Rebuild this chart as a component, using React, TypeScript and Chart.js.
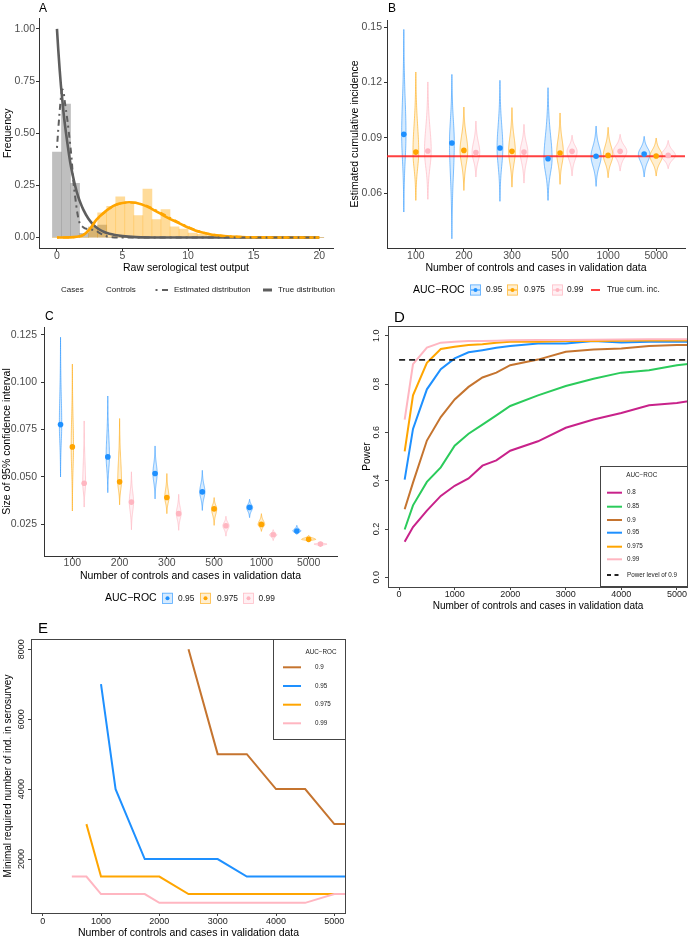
import React, { useEffect, useRef } from 'react';
import { Chart, registerables } from 'chart.js';

Chart.register(...registerables);

const FONT = '"Liberation Sans", Arial, Helvetica, sans-serif';

/* ---------------- Panel A data ---------------- */
const binCenters = [0, 0.69, 1.379, 2.069, 2.759, 3.448, 4.138, 4.828, 5.517, 6.207, 6.897, 7.586, 8.276, 8.966, 9.655, 10.345, 11.034, 11.724, 12.414, 13.103, 13.793, 14.483, 15.172, 15.862, 16.552, 17.241, 17.931, 18.621, 19.31, 20];
const controlsFreq = [0.41, 0.64, 0.26, 0.02, 0.05, 0.06, 0, 0, 0, 0, 0, 0, 0, 0, 0, 0, 0, 0, 0, 0, 0, 0, 0, 0, 0, 0, 0, 0, 0, 0];
const casesFreq = [0, 0, 0, 0, 0.05, 0.118, 0.15, 0.195, 0.16, 0.105, 0.233, 0.086, 0.134, 0.051, 0.041, 0.022, 0.015, 0.01, 0.006, 0.004, 0.003, 0.002, 0.002, 0.001, 0.001, 0.001, 0.001, 0, 0.001, 0];
const controlsTrueX = [0, 0.1, 0.2, 0.3, 0.4, 0.5, 0.6, 0.8, 1, 1.2, 1.4, 1.6, 1.8, 2, 2.4, 2.8, 3.2, 3.6, 4, 5, 6, 8, 20];
const controlsTrueY = [1, 0.9, 0.81, 0.73, 0.665, 0.6, 0.545, 0.45, 0.365, 0.3, 0.245, 0.2, 0.165, 0.135, 0.09, 0.06, 0.04, 0.027, 0.018, 0.007, 0.002, 0, 0];
const controlsEstX = [0, 0.1, 0.2, 0.3, 0.4, 0.5, 0.6, 0.8, 1, 1.1, 1.25, 1.4, 1.55, 1.7, 2, 2.4, 2.9, 3.3, 3.7, 4.2, 5, 20];
const controlsEstY = [0.43, 0.52, 0.6, 0.67, 0.71, 0.7, 0.65, 0.56, 0.45, 0.39, 0.27, 0.19, 0.12, 0.075, 0.05, 0.04, 0.035, 0.02, 0.008, 0.002, 0, 0];
const casesCurveX = [0, 1, 1.5, 2, 2.5, 3, 3.5, 4, 4.5, 5, 5.5, 6, 6.5, 7, 7.5, 8, 8.5, 9, 9.5, 10, 10.5, 11, 11.5, 12, 13, 14, 15, 16, 18, 20];
const casesTrueY = [0, 0.001, 0.004, 0.012, 0.04, 0.085, 0.115, 0.14, 0.158, 0.166, 0.169, 0.167, 0.158, 0.145, 0.128, 0.11, 0.093, 0.078, 0.063, 0.048, 0.035, 0.025, 0.018, 0.012, 0.006, 0.003, 0.0015, 0.001, 0, 0];
const casesEstY = [0, 0.001, 0.004, 0.013, 0.042, 0.083, 0.113, 0.138, 0.156, 0.165, 0.168, 0.167, 0.16, 0.148, 0.133, 0.116, 0.099, 0.082, 0.066, 0.051, 0.038, 0.027, 0.019, 0.013, 0.007, 0.004, 0.002, 0.001, 0.0005, 0];
const aXTicks = [0, 5, 10, 15, 20];
const aYTicks = [0, 0.25, 0.5, 0.75, 1];

/* ---------------- Panels B & C data ---------------- */
const sizeLabels = ['100', '200', '300', '500', '1000', '5000'];
const trueIncidence = 0.08;

const bLo095 = [0.0497, 0.0352, 0.0555, 0.056, 0.0636, 0.0687];
const bHi095 = [0.1487, 0.1243, 0.1211, 0.1171, 0.0963, 0.0907];
const bMid095 = [0.0918, 0.0871, 0.0844, 0.0786, 0.0799, 0.0811];
const bHw095 = [0.045, 0.05, 0.06, 0.085, 0.105, 0.12];
const bLo0975 = [0.056, 0.0614, 0.0632, 0.0647, 0.0683, 0.0692];
const bHi0975 = [0.1256, 0.1066, 0.1063, 0.1034, 0.0956, 0.0898];
const bMid0975 = [0.0822, 0.0831, 0.0826, 0.0817, 0.0804, 0.0801];
const bHw0975 = [0.06, 0.08, 0.07, 0.07, 0.1, 0.13];
const bLo099 = [0.0566, 0.0687, 0.0654, 0.0693, 0.0719, 0.0732];
const bHi099 = [0.1202, 0.099, 0.0972, 0.0913, 0.0918, 0.0885];
const bMid099 = [0.0828, 0.082, 0.0822, 0.0826, 0.0826, 0.0804];
const bHw099 = [0.07, 0.08, 0.08, 0.105, 0.14, 0.15];
const bYTicks = [0.06, 0.09, 0.12, 0.15];

const cLo095 = [0.0499, 0.0416, 0.0383, 0.0322, 0.0284, 0.0195];
const cHi095 = [0.1238, 0.0927, 0.0663, 0.0534, 0.0381, 0.0243];
const cMid095 = [0.0776, 0.0605, 0.0517, 0.042, 0.0338, 0.0213];
const cHw095 = [0.025, 0.035, 0.045, 0.055, 0.065, 0.085];
const cLo0975 = [0.0319, 0.0352, 0.0305, 0.0243, 0.0211, 0.0158];
const cHi0975 = [0.1096, 0.0808, 0.0517, 0.039, 0.0305, 0.019];
const cMid0975 = [0.0658, 0.0473, 0.039, 0.033, 0.0248, 0.0169];
const cHw0975 = [0.025, 0.04, 0.045, 0.055, 0.07, 0.15];
const cLo099 = [0.034, 0.022, 0.0217, 0.0186, 0.0163, 0.0133];
const cHi099 = [0.0795, 0.0526, 0.0407, 0.0291, 0.022, 0.0153];
const cMid099 = [0.0466, 0.0366, 0.0305, 0.0241, 0.0193, 0.0144];
const cHw099 = [0.03, 0.045, 0.05, 0.065, 0.075, 0.135];
const cYTicks = [0.025, 0.05, 0.075, 0.1, 0.125];

/* ---------------- Panel D data ---------------- */
const powerN = [100, 250, 500, 750, 1000, 1250, 1500, 1750, 2000, 2500, 3000, 3500, 4000, 4500, 5000, 5500];
const power080 = [0.147, 0.208, 0.276, 0.337, 0.379, 0.409, 0.462, 0.484, 0.524, 0.563, 0.619, 0.653, 0.68, 0.712, 0.721, 0.74];
const power085 = [0.198, 0.298, 0.395, 0.455, 0.545, 0.594, 0.632, 0.67, 0.709, 0.753, 0.792, 0.822, 0.847, 0.857, 0.878, 0.89];
const power090 = [0.282, 0.392, 0.566, 0.663, 0.736, 0.788, 0.827, 0.847, 0.878, 0.901, 0.933, 0.943, 0.947, 0.957, 0.961, 0.962];
const power095 = [0.404, 0.614, 0.778, 0.861, 0.906, 0.931, 0.94, 0.95, 0.957, 0.968, 0.968, 0.978, 0.972, 0.975, 0.975, 0.975];
const power0975 = [0.521, 0.753, 0.888, 0.945, 0.954, 0.961, 0.964, 0.971, 0.975, 0.975, 0.978, 0.978, 0.979, 0.98, 0.98, 0.98];
const power099 = [0.653, 0.882, 0.951, 0.971, 0.975, 0.978, 0.978, 0.979, 0.981, 0.982, 0.982, 0.983, 0.984, 0.985, 0.985, 0.985];
const powerLevel = 0.9;
const dXTicks = [0, 1000, 2000, 3000, 4000, 5000];
const dYTicks = [0, 0.2, 0.4, 0.6, 0.8, 1];

/* ---------------- Panel E data ---------------- */
const serN = [500, 750, 1000, 1250, 1500, 1750, 2000, 2500, 3000, 3500, 4000, 4500, 5000, 5500];
const req090 = [null, null, null, null, null, null, null, 8000, 5000, 5000, 4000, 4000, 3000, 3000];
const req095 = [null, null, 7000, 4000, 3000, 2000, 2000, 2000, 2000, 1500, 1500, 1500, 1500, 1500];
const req0975 = [null, 3000, 1500, 1500, 1500, 1500, 1500, 1000, 1000, 1000, 1000, 1000, 1000, 1000];
const req099 = [1500, 1500, 1000, 1000, 1000, 1000, 750, 750, 750, 750, 750, 750, 1000, 1000];
const eYTicks = [2000, 4000, 6000, 8000];

/* ---------------- colours ---------------- */
const BLUE = '#1E90FF';
const ORANGE = '#FFA500';
const PINK = '#FFB6C1';
const MAGENTA = '#C8228A';
const GREEN = '#2BCB5B';
const BROWN = '#C5742F';
const GREY = '#5E5E5E';

/* ---------------- layout helpers ---------------- */
type Frame = {
  box: { left: number; top: number; width: number; height: number };
  plot: { l: number; t: number; r: number; b: number };
  bottomExtra: number;
};

const FA: Frame = { box: { left: 0, top: 0, width: 345, height: 300 }, plot: { l: 39, t: 18.5, r: 333, b: 248 }, bottomExtra: 20 };
const FB: Frame = { box: { left: 345, top: 0, width: 346, height: 300 }, plot: { l: 387, t: 20, r: 685, b: 248 }, bottomExtra: 20 };
const FC: Frame = { box: { left: 0, top: 300, width: 345, height: 320 }, plot: { l: 44, t: 327, r: 337, b: 556 }, bottomExtra: 34 };
const FD: Frame = { box: { left: 345, top: 300, width: 346, height: 320 }, plot: { l: 388, t: 326, r: 688, b: 587 }, bottomExtra: 4 };
const FE: Frame = { box: { left: 0, top: 610, width: 350, height: 330 }, plot: { l: 31, t: 639, r: 346, b: 913 }, bottomExtra: 0 };

const yAxisWidth = (f: Frame) => f.plot.l - f.box.left;
const xAxisHeight = (f: Frame) => f.box.top + f.box.height - f.bottomExtra - f.plot.b;

function baseOptions(f: Frame): any {
  return {
    responsive: false,
    maintainAspectRatio: false,
    animation: false,
    devicePixelRatio: 1,
    events: [],
    layout: {
      padding: {
        left: 0,
        top: f.plot.t - f.box.top,
        right: f.box.left + f.box.width - f.plot.r,
        bottom: f.bottomExtra,
      },
    },
    plugins: { legend: { display: false }, tooltip: { enabled: false } },
  };
}

type AxisOpts = {
  min: number;
  max: number;
  ticks: number[];
  fmt: (v: number) => string;
  title: string;
  titleSize: number;
  titlePos: number;
  tickPad: number;
  tickSize: number;
  showLabels: boolean;
  ggplot: boolean;
};

function makeAxis(axis: 'x' | 'y', f: Frame, o: AxisOpts): any {
  const isX = axis === 'x';
  const lh = o.titleSize * 1.2;
  const pad = isX
    ? f.box.top + f.box.height - f.bottomExtra - lh / 2 - o.titlePos
    : o.titlePos - f.box.left - lh / 2;
  return {
    type: 'linear',
    position: isX ? 'bottom' : 'left',
    min: o.min,
    max: o.max,
    offset: false,
    afterBuildTicks: (s: any) => {
      s.ticks = o.ticks.map((v) => ({ value: v }));
    },
    afterFit: (s: any) => {
      if (isX) s.height = xAxisHeight(f);
      else s.width = yAxisWidth(f);
    },
    border: { display: o.ggplot, color: '#333333', width: 1 },
    grid: {
      display: true,
      drawOnChartArea: false,
      drawTicks: true,
      tickLength: 3,
      color: o.ggplot ? '#333333' : '#444444',
      lineWidth: 1,
      offset: false,
    },
    ticks: {
      display: o.showLabels,
      autoSkip: false,
      maxRotation: 0,
      minRotation: 0,
      padding: o.tickPad,
      color: o.ggplot ? '#4D4D4D' : '#222222',
      font: { family: FONT, size: o.tickSize, lineHeight: 1 },
      callback: (v: any) => o.fmt(Number(v)),
    },
    title: {
      display: true,
      text: o.title,
      color: '#000000',
      font: { family: FONT, size: o.titleSize, lineHeight: 1.2 },
      padding: isX ? { top: 0, bottom: pad } : { top: pad, bottom: 0 },
    },
  };
}

function txt(
  ctx: CanvasRenderingContext2D,
  s: string,
  x: number,
  y: number,
  size: number,
  color = '#000000',
  align: CanvasTextAlign = 'left',
  baseline: CanvasTextBaseline = 'middle',
  rotate = 0
) {
  ctx.save();
  ctx.font = `${size}px ${FONT}`;
  ctx.fillStyle = color;
  ctx.textAlign = align;
  ctx.textBaseline = baseline;
  ctx.translate(x, y);
  if (rotate) ctx.rotate(rotate);
  ctx.fillText(s, 0, 0);
  ctx.restore();
}

function seg(ctx: CanvasRenderingContext2D, x1: number, y1: number, x2: number, y2: number, color: string, w: number, dash: number[] = []) {
  ctx.save();
  ctx.strokeStyle = color;
  ctx.lineWidth = w;
  ctx.setLineDash(dash);
  ctx.beginPath();
  ctx.moveTo(x1, y1);
  ctx.lineTo(x2, y2);
  ctx.stroke();
  ctx.restore();
}

function decor(id: string, after: (ctx: CanvasRenderingContext2D, chart: any) => void, before?: (ctx: CanvasRenderingContext2D, chart: any) => void): any {
  return {
    id,
    beforeDatasetsDraw(chart: any) {
      if (!before) return;
      const ctx = chart.ctx as CanvasRenderingContext2D;
      ctx.save();
      before(ctx, chart);
      ctx.restore();
    },
    afterDraw(chart: any) {
      const ctx = chart.ctx as CanvasRenderingContext2D;
      ctx.save();
      after(ctx, chart);
      ctx.restore();
    },
  };
}

/* ---------------- violins ---------------- */
type VGroup = { off: number; lo: number[]; hi: number[]; mid: number[]; hw: number[]; stroke: string; fill: string };

function drawViolins(ctx: CanvasRenderingContext2D, chart: any, groups: VGroup[]) {
  const xs = chart.scales.x;
  const ys = chart.scales.y;
  const a = chart.chartArea;
  ctx.save();
  ctx.beginPath();
  ctx.rect(a.left, a.top, a.right - a.left, a.bottom - a.top);
  ctx.clip();
  for (const g of groups) {
    for (let i = 0; i < g.lo.length; i++) {
      const cx = i + 1 + g.off;
      const lo = g.lo[i];
      const hi = g.hi[i];
      const mid = g.mid[i];
      const hw = g.hw[i];
      const N = 80;
      const prof: [number, number][] = [];
      for (let k = 0; k <= N; k++) {
        const v = lo + ((hi - lo) * k) / N;
        const d = v < mid ? (mid - v) / Math.max(mid - lo, 1e-9) : (v - mid) / Math.max(hi - mid, 1e-9);
        const core = Math.exp(-0.5 * (d * 3.2) * (d * 3.2));
        const w = hw * (0.82 * core + 0.18 * (1 - d * d));
        prof.push([v, w]);
      }
      ctx.beginPath();
      prof.forEach(([v, w], k) => {
        const px = xs.getPixelForValue(cx + w);
        const py = ys.getPixelForValue(v);
        if (k === 0) ctx.moveTo(px, py);
        else ctx.lineTo(px, py);
      });
      for (let k = N; k >= 0; k--) {
        const [v, w] = prof[k];
        ctx.lineTo(xs.getPixelForValue(cx - w), ys.getPixelForValue(v));
      }
      ctx.closePath();
      ctx.fillStyle = g.fill;
      ctx.fill();
      ctx.strokeStyle = g.stroke;
      ctx.lineWidth = 0.8;
      ctx.stroke();
    }
  }
  ctx.restore();
}

function violinKey(ctx: CanvasRenderingContext2D, x: number, y: number, stroke: string, fill: string, pt: string, withLine: boolean) {
  ctx.save();
  ctx.fillStyle = fill;
  ctx.fillRect(x, y - 5.5, 11, 11);
  ctx.strokeStyle = stroke;
  ctx.lineWidth = 0.8;
  ctx.strokeRect(x + 0.4, y - 5.1, 10.2, 10.2);
  if (withLine) seg(ctx, x + 1, y, x + 10, y, pt, 1);
  ctx.fillStyle = pt;
  ctx.beginPath();
  ctx.arc(x + 5.5, y, 2, 0, Math.PI * 2);
  ctx.fill();
  ctx.restore();
}

/* ---------------- Panel A ---------------- */
function buildA(canvas: HTMLCanvasElement) {
  const f = FA;
  const X = (x: number) => x - f.box.left;
  const Y = (y: number) => y - f.box.top;
  const xy = (xs: number[], ys: number[]) => xs.map((x, i) => ({ x, y: ys[i] }));
  return new Chart(canvas, {
    type: 'bar',
    data: {
      datasets: [
        { type: 'line', data: xy(casesCurveX, casesEstY), borderColor: ORANGE, borderWidth: 2, borderDash: [2, 4, 6, 4], pointRadius: 0, cubicInterpolationMode: 'monotone', order: 0 } as any,
        { type: 'line', data: xy(controlsEstX, controlsEstY), borderColor: GREY, borderWidth: 2, borderDash: [2, 4, 6, 4], pointRadius: 0, cubicInterpolationMode: 'monotone', order: 1 } as any,
        { type: 'line', data: xy(casesCurveX, casesTrueY), borderColor: ORANGE, borderWidth: 2.6, pointRadius: 0, cubicInterpolationMode: 'monotone', order: 2 } as any,
        { type: 'line', data: xy(controlsTrueX, controlsTrueY), borderColor: GREY, borderWidth: 2.6, pointRadius: 0, cubicInterpolationMode: 'monotone', order: 3 } as any,
        { type: 'bar', data: xy(binCenters, casesFreq), backgroundColor: 'rgba(255,165,0,0.4)', borderWidth: 0, grouped: false, barPercentage: 1, categoryPercentage: 1, order: 4 } as any,
        { type: 'bar', data: xy(binCenters, controlsFreq), backgroundColor: 'rgba(128,128,128,0.5)', borderWidth: 0, grouped: false, barPercentage: 1, categoryPercentage: 1, order: 5 } as any,
      ],
    },
    options: {
      ...baseOptions(f),
      scales: {
        x: makeAxis('x', f, { min: -1.37, max: 21.05, ticks: aXTicks, fmt: (v) => String(v), title: 'Raw serological test output', titleSize: 10.5, titlePos: 268, tickPad: 0, tickSize: 10.5, showLabels: true, ggplot: true }),
        y: makeAxis('y', f, { min: -0.05, max: 1.05, ticks: aYTicks, fmt: (v) => v.toFixed(2), title: 'Frequency', titleSize: 10.5, titlePos: 8.3, tickPad: 1, tickSize: 10.5, showLabels: true, ggplot: true }),
      },
    },
    plugins: [
      decor('decorA', (ctx) => {
        txt(ctx, 'A', X(39), Y(12), 12, '#000', 'left', 'alphabetic');
        const ly = Y(290);
        txt(ctx, 'Cases', X(61), ly, 8, '#1A1A1A');
        txt(ctx, 'Controls', X(106), ly, 8, '#1A1A1A');
        seg(ctx, X(155.5), ly, X(157.5), ly, GREY, 2);
        seg(ctx, X(162), ly, X(168), ly, GREY, 2);
        txt(ctx, 'Estimated distribution', X(174), ly, 8, '#1A1A1A');
        seg(ctx, X(263), ly, X(272), ly, GREY, 3);
        txt(ctx, 'True distribution', X(278), ly, 8, '#1A1A1A');
      }),
    ],
  });
}

/* ---------------- Panels B & C ---------------- */
function violinChart(canvas: HTMLCanvasElement, f: Frame, letter: string, groups: VGroup[], opts: { yMin: number; yMax: number; yTicks: number[]; yDigits: number; yTitle: string; yTitlePos: number; yTickPad: number; xTickPad: number; xTitlePos: number; legendY: number; legendX: number[]; letterPos: [number, number]; withRef: boolean }) {
  const X = (x: number) => x - f.box.left;
  const Y = (y: number) => y - f.box.top;
  const ptColors = [BLUE, ORANGE, PINK];
  const datasets: any[] = groups.map((g, gi) => ({
    type: 'scatter',
    data: g.mid.map((m, i) => ({ x: i + 1 + g.off, y: m })),
    backgroundColor: ptColors[gi],
    borderWidth: 0,
    pointRadius: 2.8,
    order: gi,
  }));
  if (opts.withRef) {
    datasets.push({
      type: 'line',
      data: [{ x: 0.4, y: trueIncidence }, { x: 6.6, y: trueIncidence }],
      borderColor: 'rgba(255,30,30,0.85)',
      borderWidth: 2,
      pointRadius: 0,
      order: 10,
    });
  }
  return new Chart(canvas, {
    type: 'scatter',
    data: { datasets },
    options: {
      ...baseOptions(f),
      scales: {
        x: makeAxis('x', f, { min: 0.4, max: 6.6, ticks: [1, 2, 3, 4, 5, 6], fmt: (v) => sizeLabels[Math.round(v) - 1] ?? '', title: 'Number of controls and cases in validation data', titleSize: 10.5, titlePos: opts.xTitlePos, tickPad: opts.xTickPad, tickSize: 10.5, showLabels: true, ggplot: true }),
        y: makeAxis('y', f, { min: opts.yMin, max: opts.yMax, ticks: opts.yTicks, fmt: (v) => v.toFixed(opts.yDigits), title: opts.yTitle, titleSize: 10.5, titlePos: opts.yTitlePos, tickPad: opts.yTickPad, tickSize: 10.5, showLabels: true, ggplot: true }),
      },
    },
    plugins: [
      decor(
        'decor' + letter,
        (ctx) => {
          txt(ctx, letter, X(opts.letterPos[0]), Y(opts.letterPos[1]), 12, '#000', 'left', 'alphabetic');
          const ly = Y(opts.legendY);
          const lx = opts.legendX;
          txt(ctx, 'AUC\u2212ROC', X(lx[0]), ly, 10.5, '#000');
          const labels = ['0.95', '0.975', '0.99'];
          groups.forEach((g, gi) => {
            violinKey(ctx, X(lx[1 + gi * 2]), ly, g.stroke, g.fill, ptColors[gi], opts.withRef);
            txt(ctx, labels[gi], X(lx[2 + gi * 2]), ly, 8.4, '#1A1A1A');
          });
          if (opts.withRef) {
            seg(ctx, X(lx[7]), ly, X(lx[7] + 9), ly, 'rgba(255,30,30,0.85)', 2);
            txt(ctx, 'True cum. inc.', X(lx[8]), ly, 8.4, '#1A1A1A');
          }
        },
        (ctx, chart) => drawViolins(ctx, chart, groups)
      ),
    ],
  });
}

const vStyle = [
  { stroke: 'rgba(30,144,255,0.7)', fill: 'rgba(30,144,255,0.18)' },
  { stroke: 'rgba(255,165,0,0.7)', fill: 'rgba(255,165,0,0.18)' },
  { stroke: 'rgba(255,182,193,0.85)', fill: 'rgba(255,182,193,0.2)' },
];

function buildB(canvas: HTMLCanvasElement) {
  const groups: VGroup[] = [
    { off: -0.25, lo: bLo095, hi: bHi095, mid: bMid095, hw: bHw095, ...vStyle[0] },
    { off: 0, lo: bLo0975, hi: bHi0975, mid: bMid0975, hw: bHw0975, ...vStyle[1] },
    { off: 0.25, lo: bLo099, hi: bHi099, mid: bMid099, hw: bHw099, ...vStyle[2] },
  ];
  return violinChart(canvas, FB, 'B', groups, {
    yMin: 0.0302, yMax: 0.1538, yTicks: bYTicks, yDigits: 2, yTitle: 'Estimated cumulative incidence', yTitlePos: 355, yTickPad: 2, xTickPad: 0, xTitlePos: 268,
    legendY: 290, legendX: [413, 470, 486, 507, 524, 552, 567, 591, 607], letterPos: [388, 12], withRef: true,
  });
}

function buildC(canvas: HTMLCanvasElement) {
  const groups: VGroup[] = [
    { off: -0.25, lo: cLo095, hi: cHi095, mid: cMid095, hw: cHw095, ...vStyle[0] },
    { off: 0, lo: cLo0975, hi: cHi0975, mid: cMid0975, hw: cHw0975, ...vStyle[1] },
    { off: 0.25, lo: cLo099, hi: cHi099, mid: cMid099, hw: cHw099, ...vStyle[2] },
  ];
  return violinChart(canvas, FC, 'C', groups, {
    yMin: 0.0081, yMax: 0.1292, yTicks: cYTicks, yDigits: 3, yTitle: 'Size of 95% confidence interval', yTitlePos: 7.5, yTickPad: 4, xTickPad: -1, xTitlePos: 576,
    legendY: 598.3, legendX: [105, 162, 178, 200, 217, 243, 258.5], letterPos: [45, 320], withRef: false,
  });
}

/* ---------------- Panels D & E (base R style) ---------------- */
function boxAndLabels(ctx: CanvasRenderingContext2D, chart: any, yVals: number[], fmt: (v: number) => string, labelX: number) {
  const a = chart.chartArea;
  ctx.save();
  ctx.strokeStyle = '#444444';
  ctx.lineWidth = 1;
  ctx.strokeRect(Math.round(a.left) + 0.5, Math.round(a.top) + 0.5, Math.round(a.right - a.left) - 1, Math.round(a.bottom - a.top));
  ctx.restore();
  const ys = chart.scales.y;
  yVals.forEach((v) => txt(ctx, fmt(v), labelX, ys.getPixelForValue(v), 9, '#222222', 'center', 'middle', -Math.PI / 2));
}

function buildD(canvas: HTMLCanvasElement) {
  const f = FD;
  const X = (x: number) => x - f.box.left;
  const Y = (y: number) => y - f.box.top;
  const series = [
    { label: '0.8', data: power080, color: MAGENTA },
    { label: '0.85', data: power085, color: GREEN },
    { label: '0.9', data: power090, color: BROWN },
    { label: '0.95', data: power095, color: BLUE },
    { label: '0.975', data: power0975, color: ORANGE },
    { label: '0.99', data: power099, color: PINK },
  ];
  const datasets: any[] = series.map((s, i) => ({
    type: 'line',
    data: powerN.map((n, k) => ({ x: n, y: s.data[k] })),
    borderColor: s.color,
    borderWidth: 2,
    pointRadius: 0,
    order: 10 - i,
  }));
  datasets.push({
    type: 'line',
    data: [{ x: 0, y: powerLevel }, { x: 5500, y: powerLevel }],
    borderColor: '#222222',
    borderWidth: 1.8,
    borderDash: [6, 4],
    pointRadius: 0,
    order: 0,
  });
  return new Chart(canvas, {
    type: 'line',
    data: { datasets },
    options: {
      ...baseOptions(f),
      scales: {
        x: makeAxis('x', f, { min: -200, max: 5200, ticks: dXTicks, fmt: (v) => String(v), title: 'Number of controls and cases in validation data', titleSize: 10, titlePos: 606, tickPad: 0.5, tickSize: 9, showLabels: true, ggplot: false }),
        y: makeAxis('y', f, { min: -0.04, max: 1.04, ticks: dYTicks, fmt: (v) => v.toFixed(1), title: 'Power', titleSize: 10, titlePos: 367, tickPad: 0, tickSize: 9, showLabels: false, ggplot: false }),
      },
    },
    plugins: [
      decor('decorD', (ctx, chart) => {
        boxAndLabels(ctx, chart, dYTicks, (v) => v.toFixed(1), X(376.7));
        txt(ctx, 'D', X(394), Y(321.5), 15, '#000', 'left', 'alphabetic');
        const a = chart.chartArea;
        const l = X(600);
        const t = Y(466);
        ctx.save();
        ctx.fillStyle = '#ffffff';
        ctx.fillRect(l, t, a.right - l, a.bottom - t);
        ctx.strokeStyle = '#444444';
        ctx.lineWidth = 1;
        ctx.strokeRect(l + 0.5, t + 0.5, a.right - l - 1, a.bottom - t - 1);
        ctx.restore();
        txt(ctx, 'AUC\u2212ROC', X(641.7), Y(475), 6.3, '#222', 'center');
        const rows = [492.7, 506.7, 520, 532.7, 546.7, 559.3];
        series.forEach((s, i) => {
          seg(ctx, X(607), Y(rows[i]), X(622), Y(rows[i]), s.color, 2);
          txt(ctx, s.label, X(627), Y(rows[i]), 6.3, '#222');
        });
        seg(ctx, X(607), Y(575), X(622), Y(575), '#222222', 1.8, [4, 3.5]);
        txt(ctx, 'Power level of 0.9', X(627), Y(575), 6.3, '#222');
      }),
    ],
  });
}

function buildE(canvas: HTMLCanvasElement) {
  const f = FE;
  const X = (x: number) => x - f.box.left;
  const Y = (y: number) => y - f.box.top;
  const series = [
    { label: '0.9', data: req090, color: BROWN },
    { label: '0.95', data: req095, color: BLUE },
    { label: '0.975', data: req0975, color: ORANGE },
    { label: '0.99', data: req099, color: PINK },
  ];
  const datasets: any[] = series.map((s, i) => ({
    type: 'line',
    data: serN.map((n, k) => ({ x: n, y: s.data[k] })),
    borderColor: s.color,
    borderWidth: 2,
    pointRadius: 0,
    spanGaps: false,
    order: 10 - i,
  }));
  return new Chart(canvas, {
    type: 'line',
    data: { datasets },
    options: {
      ...baseOptions(f),
      scales: {
        x: makeAxis('x', f, { min: -200, max: 5200, ticks: dXTicks, fmt: (v) => String(v), title: 'Number of controls and cases in validation data', titleSize: 10.5, titlePos: 932.7, tickPad: 1.2, tickSize: 9, showLabels: true, ggplot: false }),
        y: makeAxis('y', f, { min: 460, max: 8290, ticks: eYTicks, fmt: (v) => String(v), title: 'Minimal required number of ind. in serosurvey', titleSize: 10, titlePos: 8.3, tickPad: 0, tickSize: 9, showLabels: false, ggplot: false }),
      },
    },
    plugins: [
      decor('decorE', (ctx, chart) => {
        boxAndLabels(ctx, chart, eYTicks, (v) => String(v), X(21.7));
        txt(ctx, 'E', X(38), Y(633.3), 15, '#000', 'left', 'alphabetic');
        const a = chart.chartArea;
        const l = X(273);
        const t = a.top;
        const b = Y(739);
        ctx.save();
        ctx.fillStyle = '#ffffff';
        ctx.fillRect(l, t, a.right - l, b - t);
        ctx.strokeStyle = '#444444';
        ctx.lineWidth = 1;
        ctx.strokeRect(l + 0.5, t + 0.5, a.right - l - 1, b - t);
        ctx.restore();
        txt(ctx, 'AUC\u2212ROC', X(321), Y(652.3), 6.3, '#222', 'center');
        const rows = [667.3, 686, 704.7, 723.3];
        series.forEach((s, i) => {
          seg(ctx, X(283), Y(rows[i]), X(301), Y(rows[i]), s.color, 2);
          txt(ctx, s.label, X(315), Y(rows[i]), 6.3, '#222');
        });
      }),
    ],
  });
}

/* ---------------- React ---------------- */
function Panel({ frame, build }: { frame: Frame; build: (c: HTMLCanvasElement) => Chart }) {
  const ref = useRef<HTMLCanvasElement | null>(null);
  useEffect(() => {
    if (!ref.current) return;
    const chart = build(ref.current);
    return () => chart.destroy();
  }, []);
  const b = frame.box;
  return (
    <canvas
      ref={ref}
      width={b.width}
      height={b.height}
      style={{ position: 'absolute', left: b.left, top: b.top, width: b.width, height: b.height }}
    />
  );
}

export default function App() {
  return (
    <div style={{ position: 'absolute', left: 0, top: 0, width: 691, height: 940, background: '#ffffff', overflow: 'hidden' }}>
      <Panel frame={FA} build={buildA} />
      <Panel frame={FB} build={buildB} />
      <Panel frame={FC} build={buildC} />
      <Panel frame={FD} build={buildD} />
      <Panel frame={FE} build={buildE} />
    </div>
  );
}
